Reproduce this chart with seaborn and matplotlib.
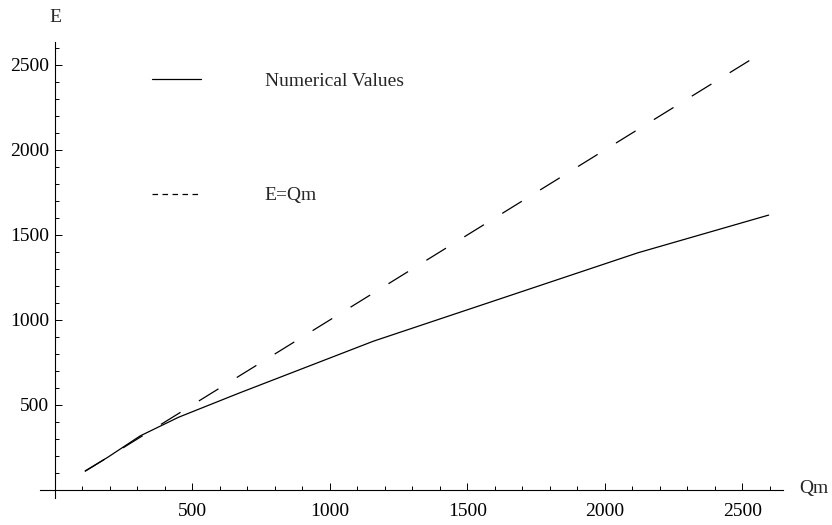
import matplotlib
matplotlib.use("Agg")
import matplotlib.pyplot as plt
from matplotlib.lines import Line2D
import seaborn as sns
import pandas as pd

# ---- data ----
qm_numerical = [110, 190, 310, 450, 670, 1158, 2120, 2596]
e_numerical = [112, 190, 318, 428, 570, 875, 1395, 1617]
qm_linear = [110, 2530]
e_linear = [110, 2530]
series_labels = ["Numerical Values", "E=Qm"]
x_label = "Qm"
y_label = "E"
major_ticks = [500, 1000, 1500, 2000, 2500]
minor_ticks = list(range(100, 2700, 100))

sns.set_style("white")
plt.rcParams["font.family"] = ["Liberation Serif", "DejaVu Serif"]
plt.rcParams["lines.scale_dashes"] = False

fig = plt.figure(figsize=(8.32, 5.25), dpi=100)
ax = fig.add_axes([40 / 832, 1 - 498 / 525, (782.7 - 40) / 832, (498 - 42) / 525])

df_num = pd.DataFrame({"Qm": qm_numerical, "E": e_numerical})
df_lin = pd.DataFrame({"Qm": qm_linear, "E": e_linear})

sns.lineplot(data=df_num, x="Qm", y="E", ax=ax, color="black", lw=0.9)
sns.lineplot(data=df_lin, x="Qm", y="E", ax=ax, color="black", lw=0.9,
             linestyle=(0, (16.6, 15.5)))

ax.set_xlim(-54, 2647)
ax.set_ylim(-47, 2635)

for s in ["top", "right"]:
    ax.spines[s].set_visible(False)
ax.spines["left"].set_position(("data", 0))
ax.spines["bottom"].set_position(("data", 0))
for s in ["left", "bottom"]:
    ax.spines[s].set_linewidth(0.8)
    ax.spines[s].set_color("black")

ax.set_xticks(major_ticks)
ax.set_yticks(major_ticks)
ax.set_xticks([t for t in minor_ticks if t not in major_ticks], minor=True)
ax.set_yticks([t for t in minor_ticks if t not in major_ticks], minor=True)

ax.tick_params(axis="both", which="both", bottom=True, left=True, top=False, right=False)
ax.tick_params(axis="both", which="major", direction="in", length=5, width=0.7,
               labelsize=14, colors="black")
ax.tick_params(axis="both", which="minor", direction="in", length=2.8, width=0.7,
               colors="black")
ax.tick_params(axis="x", which="major", pad=9.5)
ax.tick_params(axis="y", which="major", pad=4)

ax.set_xlabel("")
ax.set_ylabel("")
fig.text(814 / 832, 1 - 488 / 525, x_label, fontsize=14, ha="center", va="center")
fig.text(55 / 832, 1 - 18 / 525, y_label, fontsize=14, ha="center", va="center")

handles = [
    Line2D([], [], color="black", lw=0.9),
    Line2D([], [], color="black", lw=0.9, linestyle=(0, (4.0, 3.2))),
]
ax.legend(handles=handles, labels=series_labels, loc="upper left",
          bbox_to_anchor=(152 / 832, 1 - 72 / 525), bbox_transform=fig.transFigure,
          frameon=False, fontsize=14, handlelength=2.5, handletextpad=3.3,
          labelspacing=5.0, borderpad=0, borderaxespad=0)

ax.grid(False)
fig.savefig("out.png", dpi=100)
